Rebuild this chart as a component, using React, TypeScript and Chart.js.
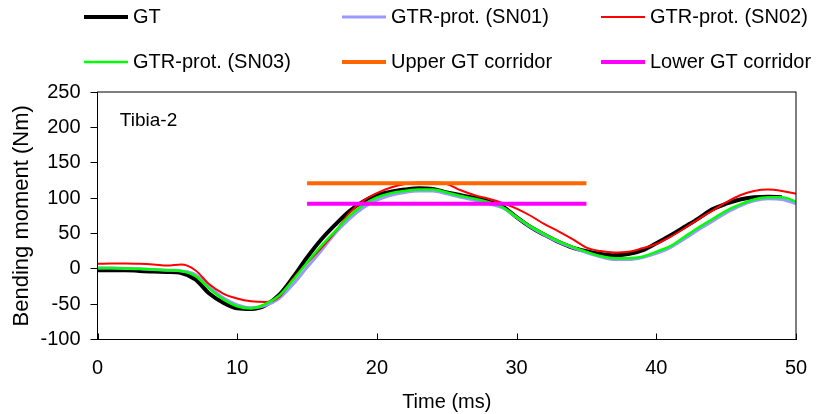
import React, { useEffect, useRef } from "react";
import { Chart, registerables } from "chart.js";

Chart.register(...registerables);

// ---- data ----
const timeMs = [
  0, 1, 2, 3, 4, 5, 6, 7, 8, 9, 10, 11, 12, 13, 14, 15, 16, 17, 18, 19, 20, 21, 22, 23, 24, 25,
  26, 27, 28, 29, 30, 31, 32, 33, 34, 35, 36, 37, 38, 39, 40, 41, 42, 43, 44, 45, 46, 47, 48, 49, 50,
];

const gtValues = [
  -2, -2, -2, -3, -4, -4.5, -6, -15, -35, -48, -56, -57, -52, -37, -12, 16, 41, 62, 81, 95, 104, 109, 112, 114, 113, 108,
  104, 100, 95, 88, 73, 59, 48, 38, 30, 25, 21, 19, 21, 26, 36, 47, 59, 71, 84, 92, 98, 101, 102, 101,
];

const sn01Values = [
  1, 1, 0.5, 0, -1, -2, -3, -8, -25, -41, -51, -55, -52, -42, -22, 2, 25, 50, 70, 86, 97, 104, 108, 110, 110, 106,
  101, 97, 92, 86, 73, 59, 48, 38, 30, 23, 17, 13, 13, 16, 22, 30, 42, 55, 67, 79, 89, 96, 99, 98, 92,
];

const sn02Values = [
  7, 7.5, 7.5, 7, 6, 4.5, 6, -2, -22, -35, -42, -46, -47, -40, -14, 8, 29, 52, 78, 96, 107, 115, 120, 122, 122, 120,
  111, 104, 99, 93, 85, 75, 63, 53, 42, 30, 25, 23, 24, 29, 35, 45, 57, 70, 82, 94, 104, 110, 112, 110, 106,
];

const sn03Values = [
  1, 1, 0.5, 0, -1, -2, -3, -10, -28, -43, -53, -56, -50, -38, -16, 9, 32, 53, 74, 90, 101, 107, 110, 112, 112, 108,
  103, 99, 94, 87, 73, 60, 49, 39, 31, 24, 18, 15, 15, 17, 24, 32, 45, 58, 70, 82, 91, 98, 101, 101, 95,
];

const corridorTime = [15, 35];
const upperCorridor = [121, 121];
const lowerCorridor = [92, 92];

const seriesLabels = [
  "GT",
  "GTR-prot. (SN01)",
  "GTR-prot. (SN02)",
  "GTR-prot. (SN03)",
  "Upper GT corridor",
  "Lower GT corridor",
];
const seriesColors = ["#000000", "#9999FF", "#FF0000", "#00FF00", "#FF6600", "#FF00FF"];
const seriesWidths = [4, 3, 2, 2.5, 4, 4];

const xTicks = [0, 10, 20, 30, 40, 50];
const yTicks = [-100, -50, 0, 50, 100, 150, 200, 250];

const panelLabel = "Tibia-2";
const panelLabelPos = { x: 1.6, y: 210 };

const xTitle = "Time (ms)";
const yTitle = "Bending moment (Nm)";

const FONT = '"Liberation Sans", Arial, Helvetica, sans-serif';

function toPoints(xs: number[], ys: number[]) {
  return ys.map((y, i) => ({ x: xs[i], y }));
}

const framePlugin = {
  id: "frameAndExtras",
  afterDraw(chart: any) {
    const { ctx, chartArea } = chart;
    const xScale = chart.scales.x;
    const yScale = chart.scales.y;
    ctx.save();
    // frame
    ctx.strokeStyle = "#000";
    ctx.lineWidth = 1;
    ctx.strokeRect(chartArea.left, chartArea.top, chartArea.right - chartArea.left, chartArea.bottom - chartArea.top);
    // inside x ticks
    xTicks.forEach((v) => {
      const px = Math.round(xScale.getPixelForValue(v)) + 0.5;
      ctx.beginPath();
      ctx.moveTo(px, chartArea.bottom);
      ctx.lineTo(px, chartArea.bottom - 6);
      ctx.stroke();
    });
    // panel label
    ctx.fillStyle = "#000";
    ctx.font = `19px ${FONT}`;
    ctx.textAlign = "left";
    ctx.textBaseline = "middle";
    ctx.fillText(panelLabel, xScale.getPixelForValue(panelLabelPos.x), yScale.getPixelForValue(panelLabelPos.y));

    // legend
    const colX = [84, 342, 601];
    const rowY = [17, 62];
    ctx.font = `20px ${FONT}`;
    seriesLabels.forEach((label, i) => {
      const col = i % 3;
      const row = Math.floor(i / 3);
      const x0 = colX[col];
      const y0 = rowY[row];
      ctx.strokeStyle = seriesColors[i];
      ctx.lineWidth = seriesWidths[i];
      ctx.lineCap = "butt";
      ctx.beginPath();
      ctx.moveTo(x0, y0);
      ctx.lineTo(x0 + 44, y0);
      ctx.stroke();
      ctx.fillStyle = "#000";
      ctx.fillText(label, x0 + 49, y0);
    });
    ctx.restore();
  },
};

export default function App() {
  const canvasRef = useRef<HTMLCanvasElement | null>(null);

  useEffect(() => {
    document.body.style.margin = "0";
    const canvas = canvasRef.current;
    if (!canvas) return;
    Chart.defaults.font.family = FONT;
    Chart.defaults.color = "#000";

    const valueSets = [gtValues, sn01Values, sn02Values, sn03Values];
    const datasets: any[] = valueSets.map((vals, i) => ({
      label: seriesLabels[i],
      data: toPoints(timeMs, vals),
      borderColor: seriesColors[i],
      backgroundColor: seriesColors[i],
      borderWidth: seriesWidths[i],
      pointRadius: 0,
      fill: false,
      cubicInterpolationMode: "monotone",
      order: 6 - i,
    }));
    datasets.push({
      label: seriesLabels[4],
      data: toPoints(corridorTime, upperCorridor),
      borderColor: seriesColors[4],
      backgroundColor: seriesColors[4],
      borderWidth: seriesWidths[4],
      pointRadius: 0,
      fill: false,
      order: 2,
    });
    datasets.push({
      label: seriesLabels[5],
      data: toPoints(corridorTime, lowerCorridor),
      borderColor: seriesColors[5],
      backgroundColor: seriesColors[5],
      borderWidth: seriesWidths[5],
      pointRadius: 0,
      fill: false,
      order: 1,
    });

    const chart = new Chart(canvas, {
      type: "line",
      data: { datasets },
      options: {
        animation: false,
        responsive: false,
        maintainAspectRatio: false,
        layout: { padding: { left: 0, right: 20, top: 92, bottom: 0 } },
        plugins: {
          legend: { display: false },
          tooltip: { enabled: false },
        },
        scales: {
          x: {
            type: "linear",
            min: 0,
            max: 50,
            afterBuildTicks: (scale: any) => {
              scale.ticks = xTicks.map((v) => ({ value: v }));
            },
            afterFit: (scale: any) => {
              scale.height = 74.5;
              scale.paddingLeft = 0;
              scale.paddingRight = 0;
            },
            grid: { display: true, drawOnChartArea: false, drawTicks: false, color: "#000" },
            border: { display: true, color: "#000", width: 1 },
            ticks: { padding: 16.5, font: { size: 20, family: FONT }, color: "#000", maxRotation: 0 },
            title: {
              display: true,
              text: xTitle,
              font: { size: 20, family: FONT, lineHeight: 1.2 },
              color: "#000",
              padding: { top: 0, bottom: 0 },
            },
          },
          y: {
            type: "linear",
            min: -100,
            max: 250,
            afterBuildTicks: (scale: any) => {
              scale.ticks = yTicks.map((v) => ({ value: v }));
            },
            afterFit: (scale: any) => {
              scale.width = 97.5;
              scale.paddingTop = 0;
              scale.paddingBottom = 0;
            },
            grid: { display: true, drawOnChartArea: false, drawTicks: true, tickLength: 7, color: "#000" },
            border: { display: true, color: "#000", width: 1 },
            ticks: { padding: 10, font: { size: 20, family: FONT }, color: "#000" },
            title: {
              display: true,
              text: yTitle,
              font: { size: 22, family: FONT, lineHeight: 1.2 },
              color: "#000",
              padding: { top: 9, bottom: 0 },
            },
          },
        },
      } as any,
      plugins: [framePlugin],
    });

    return () => {
      chart.destroy();
    };
  }, []);

  return (
    <div style={{ width: 816, height: 414, position: "relative", background: "#fff" }}>
      <canvas ref={canvasRef} width={816} height={414} />
    </div>
  );
}
